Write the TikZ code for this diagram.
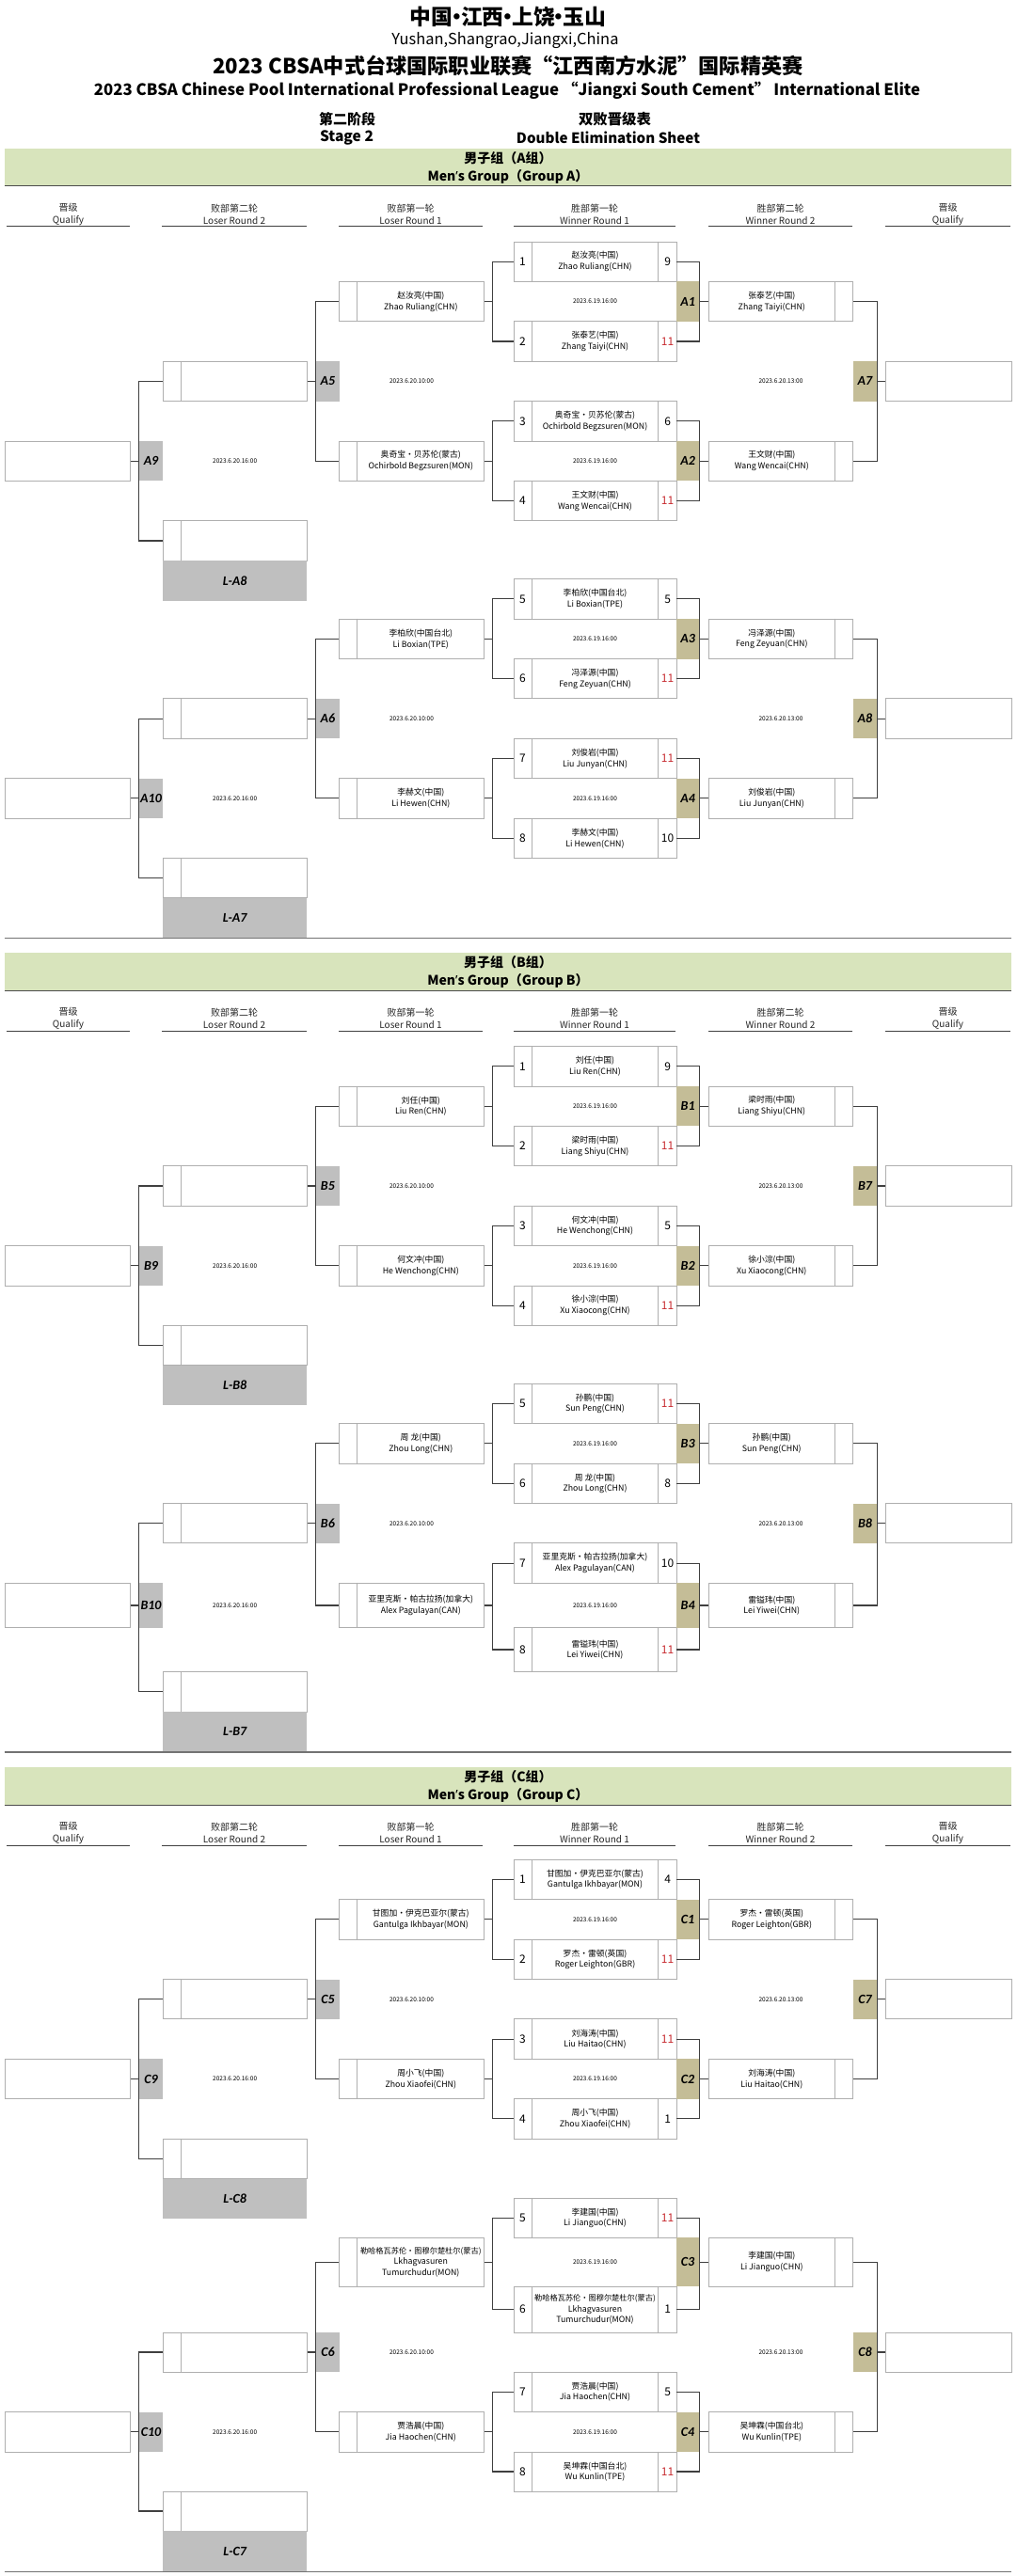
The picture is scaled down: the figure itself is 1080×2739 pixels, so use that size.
\documentclass[tikz,border=0pt]{standalone}
\usepackage{fontspec}
\usepackage{graphicx}
\setmainfont{Noto Sans CJK SC}
\newfontfamily\badgefont{Carlito}
\newfontfamily\aposf{Noto Sans}
\definecolor{boxgray}{RGB}{175,175,175}
\definecolor{conngray}{RGB}{64,64,64}
\definecolor{khaki}{RGB}{196,189,151}
\definecolor{badgegray}{RGB}{191,191,191}
\definecolor{bandgreen}{RGB}{216,228,188}
\definecolor{scorered}{RGB}{200,45,50}
\newcommand{\nbul}{\makebox[0.38em]{•}}
\newcommand{\apo}{{\aposf\bfseries ’}}
\tikzset{
  boxl/.style={draw=boxgray, line width=0.9pt},
  rbox/.style={draw=boxgray, line width=0.9pt, fill=white, inner sep=0pt},
  pbox/.style={rbox, minimum width=173pt},
  conn/.style={draw=conngray, line width=1.1pt},
  seedt/.style={font=\fontsize{12}{14}\selectfont, inner sep=0pt},
  namet/.style={font=\fontsize{8.8}{11.7}\selectfont, align=center, inner sep=0pt},
  datet/.style={font=\fontsize{6.5}{8}\selectfont, inner sep=0pt},
  badget/.style={inner sep=0pt, font=\badgefont\bfseries\itshape\fontsize{14}{16}\selectfont},
  wbadge/.style={badget, fill=khaki, minimum width=24.3pt},
  lbadge/.style={badget, fill=badgegray, minimum width=24.5pt},
  greybox/.style={badget, fill=badgegray, minimum width=153.3pt},
  band/.style={fill=bandgreen, minimum width=1070pt, minimum height=39.6pt, inner sep=0pt},
  bandline/.style={draw=black!70, line width=1.2pt},
  bandt/.style={font=\bfseries\fontsize{14}{19}\selectfont, align=center, inner sep=0pt},
  colt/.style={font=\fontsize{10}{13}\selectfont, align=center, inner sep=0pt, text=black!85},
  uline/.style={draw=black!75, line width=1pt},
  sepline/.style={draw=black!55, line width=1.3pt},
  head/.style={inner sep=0pt}
}
% player row of a winner-round match
\newcommand{\prow}[7]{%
  \node[pbox, minimum height={(#3)-(#2)}] (#1) at (632.5,{((#2)+(#3))/2}) {};
  \draw[boxl] (#1.north west) ++(20,0) coordinate (#1x) -- (#1x |- #1.south);
  \draw[boxl] (#1.north east) ++(-19.7,0) coordinate (#1y) -- (#1y |- #1.south);
  \node[seedt] (#1s) at ([xshift=10pt]#1.west) {#4};
  \node[namet] (#1n) at (#1.center) {#5};
  \node[seedt, text=#7] (#1c) at ([xshift=-9.85pt]#1.east) {#6};
}
% box with a narrow column on the left
\newcommand{\boxL}[6]{%
  \node[rbox, minimum width={(#3)-(#2)}, minimum height={(#5)-(#4)}] (#1) at ({((#2)+(#3))/2},{((#4)+(#5))/2}) {};
  \draw[boxl] (#1.north west) ++(19.6,0) coordinate (#1x) -- (#1x |- #1.south);
  \node[namet] (#1n) at ([xshift=9.8pt]#1.center) {#6};
}
% box with a narrow column on the right
\newcommand{\boxR}[6]{%
  \node[rbox, minimum width={(#3)-(#2)}, minimum height={(#5)-(#4)}] (#1) at ({((#2)+(#3))/2},{((#4)+(#5))/2}) {};
  \draw[boxl] (#1.north east) ++(-19.4,0) coordinate (#1x) -- (#1x |- #1.south);
  \node[namet] (#1n) at ([xshift=-9.7pt]#1.center) {#6};
}
% plain box
\newcommand{\boxQ}[5]{%
  \node[rbox, minimum width={(#3)-(#2)}, minimum height={(#5)-(#4)}] (#1) at ({((#2)+(#3))/2},{((#4)+(#5))/2}) {};
}
% everything of a half group except the winner round 1 player rows
\newcommand{\halfframe}[7]{%
  \node[wbadge, minimum height={\rC-\rB}] (#1b1) at (731.15,{(\rB+\rC)/2}) {#2};
  \node[wbadge, minimum height={\rG-\rF}] (#1b2) at (731.15,{(\rF+\rG)/2}) {#3};
  \node[datet] (#1d1) at (632.5,{(\rB+\rC)/2}) {2023.6.19.16:00};
  \node[datet] (#1d2) at (632.5,{(\rF+\rG)/2}) {2023.6.19.16:00};
  \boxR{#1w1}{753.3}{906.7}{\rB}{\rC}{\wa}
  \boxR{#1w2}{753.3}{906.7}{\rF}{\rG}{\wb}
  \node[wbadge, minimum height={\rE-\rD}] (#1b7) at (919.5,{(\rD+\rE)/2}) {#4};
  \boxQ{#1q1}{941.3}{1075}{\rD}{\rE}
  \node[datet] (#1d7) at (830,{(\rD+\rE)/2}) {2023.6.20.13:00};
  \boxL{#1l1}{360.7}{514.3}{\rB}{\rC}{\la}
  \boxL{#1l2}{360.7}{514.3}{\rF}{\rG}{\lb}
  \node[lbadge, minimum height={\rE-\rD}] (#1b5) at (348.45,{(\rD+\rE)/2}) {#5};
  \node[datet] (#1d5) at (437.5,{(\rD+\rE)/2}) {2023.6.20.10:00};
  \boxL{#1r1}{173}{326.3}{\rD}{\rE}{}
  \boxL{#1r2}{173}{326.3}{\rH}{\rI}{}
  \node[greybox, minimum height={\rJ-\rI}] (#1g) at (249.65,{(\rI+\rJ)/2}) {#7};
  \node[lbadge, minimum height={\rG-\rF}] (#1b9) at (160.55,{(\rF+\rG)/2}) {#6};
  \boxQ{#1q2}{5}{138.3}{\rF}{\rG}
  \node[datet] (#1d9) at (249.65,{(\rF+\rG)/2}) {2023.6.20.16:00};
  \draw[conn] (#1p1.east) -- ++(24.3,0) |- (#1p2.east);
  \draw[conn] (#1p3.east) -- ++(24.3,0) |- (#1p4.east);
  \draw[conn] (#1b1.east) -- (#1w1.west);
  \draw[conn] (#1b2.east) -- (#1w2.west);
  \draw[conn] (#1p1.west) -- ++(-22,0) coordinate (#1v1) |- (#1p2.west);
  \draw[conn] (#1p3.west) -- ++(-22,0) coordinate (#1v2) |- (#1p4.west);
  \draw[conn] (#1l1.east) -- (#1l1.east -| #1v1);
  \draw[conn] (#1l2.east) -- (#1l2.east -| #1v2);
  \draw[conn] (#1w1.east) -- ++(25,0) |- (#1w2.east);
  \draw[conn] (#1b7.east) -- (#1q1.west);
  \draw[conn] (#1l1.west) -- ++(-24.7,0) |- (#1l2.west);
  \draw[conn] (#1b5.west) -- (#1r1.east);
  \draw[conn] (#1r1.west) -- ++(-24.8,0) |- (#1r2.west);
  \draw[conn] (#1b9.west) -- (#1q2.east);
}
\newcommand{\colhead}[6]{%
  \node[colt] (#1) at ({((#2)+(#3))/2},{(#4)+70}) {#5\\#6};
  \draw[uline] ({#2},{(#4)+83}) -- ({#3},{(#4)+83});
}
\newcommand{\grouphead}[3]{%
  \node[band] (#1band) at (540,{(#2)+19.8}) {};
  \draw[bandline] (#1band.south west) -- (#1band.south east);
  \node[bandt] (#1title) at (540,{(#2)+20.5}) {男子组（#3组）\\Men\apo s Group（Group #3）};
  \colhead{#1h1}{7}{138}{#2}{晋级}{Qualify}
  \colhead{#1h2}{172}{326}{#2}{败部第二轮}{Loser Round 2}
  \colhead{#1h3}{360}{513}{#2}{败部第一轮}{Loser Round 1}
  \colhead{#1h4}{546}{718}{#2}{胜部第一轮}{Winner Round 1}
  \colhead{#1h5}{753}{906}{#2}{胜部第二轮}{Winner Round 2}
  \colhead{#1h6}{941}{1074}{#2}{晋级}{Qualify}
}
\begin{document}
\begin{tikzpicture}[x=1pt,y=-1pt]
\fill[white] (0,0) rectangle (1080,2739);
\useasboundingbox (0,0) rectangle (1080,2739);
% ---------- page header ----------
\node[head] (h1) at (540,18) {\resizebox{208pt}{!}{\bfseries 中国\nbul 江西\nbul 上饶\nbul 玉山}};
\node[head] (h2) at (537,42.7) {\resizebox{241pt}{!}{Yushan,Shangrao,Jiangxi,China}};
\node[head] (h3) at (540,70) {\resizebox{627pt}{!}{\bfseries 2023 CBSA中式台球国际职业联赛“江西南方水泥”国际精英赛}};
\node[head] (h4) at (539,96.7) {\resizebox{878pt}{!}{\bfseries 2023 CBSA Chinese Pool International Professional League “Jiangxi South Cement” International Elite}};
\node[head] (h5) at (369,126.7) {\resizebox{60pt}{!}{\bfseries 第二阶段}};
\node[head] (h6) at (368.5,146.7) {\resizebox{57pt}{!}{\bfseries Stage 2}};
\node[head] (h7) at (653.5,126.7) {\resizebox{77pt}{!}{\bfseries 双败晋级表}};
\node[head] (h8) at (646.5,146.7) {\resizebox{195pt}{!}{\bfseries Double Elimination Sheet}};
% ================= GROUP A =================
\grouphead{GA}{157.7}{A}
\def\rA{257.0}\def\rB{299.4}\def\rC{341.8}\def\rD{384.2}\def\rE{426.6}\def\rF{469.0}\def\rG{511.4}\def\rH{553.8}\def\rI{596.2}\def\rJ{638.6}
\prow{Aup1}{\rA}{\rB}{1}{赵汝亮(中国)\\Zhao Ruliang(CHN)}{9}{black}
\prow{Aup2}{\rC}{\rD}{2}{张泰艺(中国)\\Zhang Taiyi(CHN)}{11}{scorered}
\prow{Aup3}{\rE}{\rF}{3}{奥奇宝·贝苏伦(蒙古)\\Ochirbold Begzsuren(MON)}{6}{black}
\prow{Aup4}{\rG}{\rH}{4}{王文财(中国)\\Wang Wencai(CHN)}{11}{scorered}
\def\wa{张泰艺(中国)\\Zhang Taiyi(CHN)}\def\wb{王文财(中国)\\Wang Wencai(CHN)}
\def\la{赵汝亮(中国)\\Zhao Ruliang(CHN)}\def\lb{奥奇宝·贝苏伦(蒙古)\\Ochirbold Begzsuren(MON)}
\halfframe{Au}{A1}{A2}{A7}{A5}{A9}{L-A8}
\def\rA{615.7}\def\rB{658.1}\def\rC{700.5}\def\rD{742.9}\def\rE{785.3}\def\rF{827.7}\def\rG{870.1}\def\rH{912.5}\def\rI{954.9}\def\rJ{997.3}
\prow{Alp1}{\rA}{\rB}{5}{李柏欣(中国台北)\\Li Boxian(TPE)}{5}{black}
\prow{Alp2}{\rC}{\rD}{6}{冯泽源(中国)\\Feng Zeyuan(CHN)}{11}{scorered}
\prow{Alp3}{\rE}{\rF}{7}{刘俊岩(中国)\\Liu Junyan(CHN)}{11}{scorered}
\prow{Alp4}{\rG}{\rH}{8}{李赫文(中国)\\Li Hewen(CHN)}{10}{black}
\def\wa{冯泽源(中国)\\Feng Zeyuan(CHN)}\def\wb{刘俊岩(中国)\\Liu Junyan(CHN)}
\def\la{李柏欣(中国台北)\\Li Boxian(TPE)}\def\lb{李赫文(中国)\\Li Hewen(CHN)}
\halfframe{Al}{A3}{A4}{A8}{A6}{A10}{L-A7}
\draw[sepline] (Alg.south -| GAband.west) -- (Alg.south -| GAband.east);
% ================= GROUP B =================
\grouphead{GB}{1013.3}{B}
\def\rA{1112.6}\def\rB{1155.0}\def\rC{1197.4}\def\rD{1239.8}\def\rE{1282.2}\def\rF{1324.6}\def\rG{1367.0}\def\rH{1409.4}\def\rI{1451.8}\def\rJ{1494.2}
\prow{Bup1}{\rA}{\rB}{1}{刘任(中国)\\Liu Ren(CHN)}{9}{black}
\prow{Bup2}{\rC}{\rD}{2}{梁时雨(中国)\\Liang Shiyu(CHN)}{11}{scorered}
\prow{Bup3}{\rE}{\rF}{3}{何文冲(中国)\\He Wenchong(CHN)}{5}{black}
\prow{Bup4}{\rG}{\rH}{4}{徐小淙(中国)\\Xu Xiaocong(CHN)}{11}{scorered}
\def\wa{梁时雨(中国)\\Liang Shiyu(CHN)}\def\wb{徐小淙(中国)\\Xu Xiaocong(CHN)}
\def\la{刘任(中国)\\Liu Ren(CHN)}\def\lb{何文冲(中国)\\He Wenchong(CHN)}
\halfframe{Bu}{B1}{B2}{B7}{B5}{B9}{L-B8}
\def\rA{1471.3}\def\rB{1513.7}\def\rC{1556.1}\def\rD{1598.5}\def\rE{1640.9}\def\rF{1683.3}\def\rG{1730.7}\def\rH{1777.3}\def\rI{1820.0}\def\rJ{1862.7}
\prow{Blp1}{\rA}{\rB}{5}{孙鹏(中国)\\Sun Peng(CHN)}{11}{scorered}
\prow{Blp2}{\rC}{\rD}{6}{周\ 龙(中国)\\Zhou Long(CHN)}{8}{black}
\prow{Blp3}{\rE}{\rF}{7}{亚里克斯·帕古拉扬(加拿大)\\Alex Pagulayan(CAN)}{10}{black}
\prow{Blp4}{\rG}{\rH}{8}{雷镒玮(中国)\\Lei Yiwei(CHN)}{11}{scorered}
\def\wa{孙鹏(中国)\\Sun Peng(CHN)}\def\wb{雷镒玮(中国)\\Lei Yiwei(CHN)}
\def\la{周\ 龙(中国)\\Zhou Long(CHN)}\def\lb{亚里克斯·帕古拉扬(加拿大)\\Alex Pagulayan(CAN)}
\halfframe{Bl}{B3}{B4}{B8}{B6}{B10}{L-B7}
\draw[sepline] (Blg.south -| GBband.west) -- (Blg.south -| GBband.east);
% ================= GROUP C =================
\grouphead{GC}{1879.3}{C}
\def\rA{1977.3}\def\rB{2019.7}\def\rC{2062.1}\def\rD{2104.5}\def\rE{2146.9}\def\rF{2189.3}\def\rG{2231.7}\def\rH{2274.1}\def\rI{2316.5}\def\rJ{2358.9}
\prow{Cup1}{\rA}{\rB}{1}{甘图加·伊克巴亚尔(蒙古)\\Gantulga Ikhbayar(MON)}{4}{black}
\prow{Cup2}{\rC}{\rD}{2}{罗杰·雷顿(英国)\\Roger Leighton(GBR)}{11}{scorered}
\prow{Cup3}{\rE}{\rF}{3}{刘海涛(中国)\\Liu Haitao(CHN)}{11}{scorered}
\prow{Cup4}{\rG}{\rH}{4}{周小飞(中国)\\Zhou Xiaofei(CHN)}{1}{black}
\def\wa{罗杰·雷顿(英国)\\Roger Leighton(GBR)}\def\wb{刘海涛(中国)\\Liu Haitao(CHN)}
\def\la{甘图加·伊克巴亚尔(蒙古)\\Gantulga Ikhbayar(MON)}\def\lb{周小飞(中国)\\Zhou Xiaofei(CHN)}
\halfframe{Cu}{C1}{C2}{C7}{C5}{C9}{L-C8}
\def\rA{2337.3}\def\rB{2379.3}\def\rC{2431.0}\def\rD{2480.0}\def\rE{2522.0}\def\rF{2564.5}\def\rG{2607.0}\def\rH{2649.0}\def\rI{2691.0}\def\rJ{2734.0}
\prow{Clp1}{\rA}{\rB}{5}{李建国(中国)\\Li Jianguo(CHN)}{11}{scorered}
\prow{Clp2}{\rC}{\rD}{6}{{\fontsize{8.2}{11.7}\selectfont 勒哈格瓦苏伦·图穆尔楚杜尔(蒙古)}\\Lkhagvasuren\\Tumurchudur(MON)}{1}{black}
\prow{Clp3}{\rE}{\rF}{7}{贾浩晨(中国)\\Jia Haochen(CHN)}{5}{black}
\prow{Clp4}{\rG}{\rH}{8}{吴坤霖(中国台北)\\Wu Kunlin(TPE)}{11}{scorered}
\def\wa{李建国(中国)\\Li Jianguo(CHN)}\def\wb{吴坤霖(中国台北)\\Wu Kunlin(TPE)}
\def\la{{\fontsize{8.2}{11.7}\selectfont 勒哈格瓦苏伦·图穆尔楚杜尔(蒙古)}\\Lkhagvasuren\\Tumurchudur(MON)}\def\lb{贾浩晨(中国)\\Jia Haochen(CHN)}
\halfframe{Cl}{C3}{C4}{C8}{C6}{C10}{L-C7}
\draw[sepline] (Clg.south -| GCband.west) -- (Clg.south -| GCband.east);
\end{tikzpicture}
\end{document}
